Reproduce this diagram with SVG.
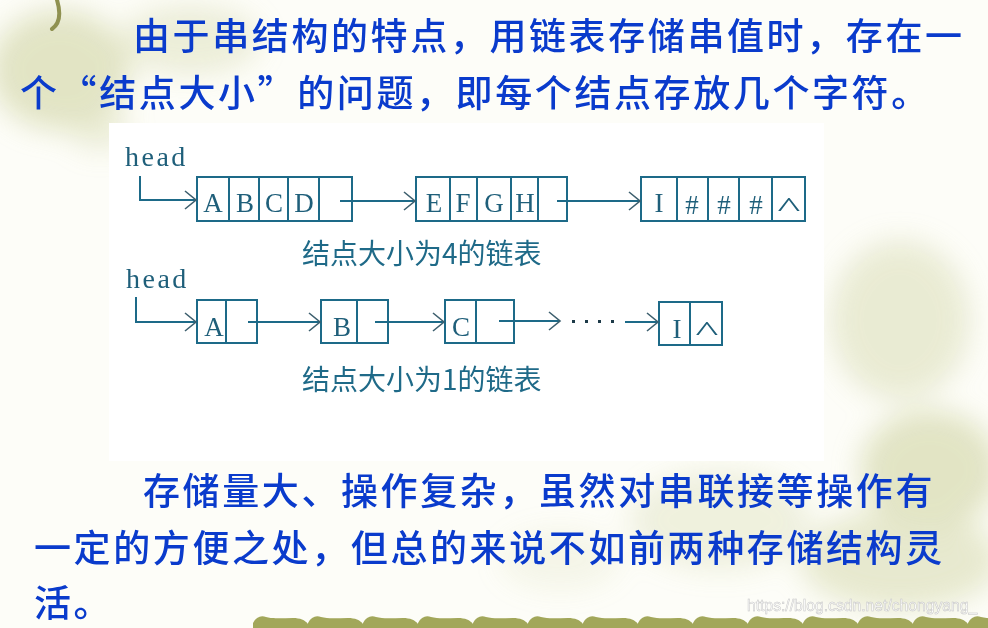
<svg xmlns="http://www.w3.org/2000/svg" xmlns:xlink="http://www.w3.org/1999/xlink" width="988" height="628" viewBox="0 0 988 628">
  <defs>
    <filter id="blur" x="-30%" y="-30%" width="160%" height="160%">
      <feGaussianBlur stdDeviation="14"/>
    </filter>
    <marker id="v" viewBox="-12 -10 14 20" markerWidth="14" markerHeight="20" refX="0" refY="0" orient="auto" markerUnits="userSpaceOnUse">
      <path d="M-11,-9 L0,0 L-11,9" fill="none" stroke="#3d5f6e" stroke-width="1.6"/>
    </marker>
    <path id="wave" d="M0,628 L0,623 C3,617 8,615 13,617 C20,619 30,618 40,618 C47,618 52,620 55,624 L55,628 Z"/>
    <style>
      .para { font-family: "Noto Sans CJK SC", "Noto Sans", sans-serif; font-size: 37px; letter-spacing: 2.6px; fill: #0a3bcc; font-weight: 500; }
      .cell { fill: #ffffff; stroke: #1d6a88; stroke-width: 2; }
      .div { stroke: #1d6a88; stroke-width: 2; }
      .lbl { font-family: "Liberation Serif", serif; font-size: 27px; fill: #1f5f7a; text-anchor: middle; }
      .head { font-family: "Liberation Serif", serif; font-size: 28px; letter-spacing: 2.5px; fill: #1f5f7a; }
      .cap { font-family: "Noto Sans CJK SC", sans-serif; font-size: 28px; fill: #1f6a88; }
      .con { fill: none; stroke: #1d6a88; stroke-width: 2; }
      .wv { fill: #a2a75a; stroke: none; }
    </style>
  </defs>

  <!-- background -->
  <rect width="988" height="628" fill="#fdfdf8"/>
  <g id="background" filter="url(#blur)" fill="#d6d9ae" opacity="0.7">
    <ellipse cx="60" cy="70" rx="70" ry="60"/>
    <ellipse cx="190" cy="40" rx="70" ry="35" opacity="0.6"/>
    <ellipse cx="100" cy="130" rx="30" ry="20" opacity="0.6"/>
    <ellipse cx="900" cy="320" rx="70" ry="80" opacity="0.7"/>
    <ellipse cx="930" cy="470" rx="70" ry="60"/>
    <ellipse cx="900" cy="560" rx="100" ry="50" opacity="0.8"/>
    <ellipse cx="720" cy="520" rx="90" ry="50" opacity="0.5"/>
    <ellipse cx="560" cy="560" rx="60" ry="30" opacity="0.3"/>
  </g>
  <path d="M57,0 C60,10 62,22 52,29" fill="none" stroke="#8f9150" stroke-width="4" stroke-linecap="round"/>

  <!-- white diagram panel -->
  <rect x="109" y="123" width="715" height="338" fill="#ffffff"/>

  <!-- paragraph text -->
  <g id="text-top">
    <text class="para" x="133" y="50">由于串结构的特点，用链表存储串值时，存在一</text>
    <text class="para" x="20" y="107">个“结点大小”的问题，即每个结点存放几个字符。</text>
  </g>
  <g id="text-bottom">
    <text class="para" x="143" y="505">存储量大、操作复杂，虽然对串联接等操作有</text>
    <text class="para" x="34" y="562">一定的方便之处，但总的来说不如前两种存储结构灵</text>
    <text class="para" x="34" y="617">活。</text>
  </g>

  <!-- Row 1: node size 4 -->
  <text id="head1" class="head" x="125" y="166">head</text>
  <g id="n1">
    <rect class="cell" x="197" y="177" width="155" height="44"/>
    <line class="div" x1="229" y1="177" x2="229" y2="221"/>
    <line class="div" x1="259" y1="177" x2="259" y2="221"/>
    <line class="div" x1="288" y1="177" x2="288" y2="221"/>
    <line class="div" x1="319" y1="177" x2="319" y2="221"/>
    <text class="lbl" x="213" y="212">A</text>
    <text class="lbl" x="245" y="212">B</text>
    <text class="lbl" x="274" y="212">C</text>
    <text class="lbl" x="304" y="212">D</text>
  </g>
  <g id="n2">
    <rect class="cell" x="416" y="177" width="151" height="44"/>
    <line class="div" x1="450" y1="177" x2="450" y2="221"/>
    <line class="div" x1="477" y1="177" x2="477" y2="221"/>
    <line class="div" x1="511" y1="177" x2="511" y2="221"/>
    <line class="div" x1="538" y1="177" x2="538" y2="221"/>
    <text class="lbl" x="434" y="212">E</text>
    <text class="lbl" x="463" y="212">F</text>
    <text class="lbl" x="494" y="212">G</text>
    <text class="lbl" x="525" y="212">H</text>
  </g>
  <g id="n3">
    <rect class="cell" x="641" y="177" width="164" height="44"/>
    <line class="div" x1="677" y1="177" x2="677" y2="221"/>
    <line class="div" x1="708" y1="177" x2="708" y2="221"/>
    <line class="div" x1="739" y1="177" x2="739" y2="221"/>
    <line class="div" x1="772" y1="177" x2="772" y2="221"/>
    <text class="lbl" x="659" y="212">I</text>
    <text class="lbl" x="692" y="214">#</text>
    <text class="lbl" x="724" y="214">#</text>
    <text class="lbl" x="756" y="214">#</text>
    <text class="lbl" x="789" y="216" transform="translate(789 0) scale(1.8 1) translate(-789 0)">^</text>
  </g>
  <text id="cap1" class="cap" x="302" y="264">结点大小为4的链表</text>

  <!-- Row 2: node size 1 -->
  <text id="head2" class="head" x="126" y="288">head</text>
  <g id="m1">
    <rect class="cell" x="197" y="300" width="60" height="43"/>
    <line class="div" x1="226" y1="300" x2="226" y2="343"/>
    <text class="lbl" x="214" y="336">A</text>
  </g>
  <g id="m2">
    <rect class="cell" x="321" y="300" width="67" height="43"/>
    <line class="div" x1="357" y1="300" x2="357" y2="343"/>
    <text class="lbl" x="342" y="336">B</text>
  </g>
  <g id="m3">
    <rect class="cell" x="445" y="300" width="69" height="43"/>
    <line class="div" x1="476" y1="300" x2="476" y2="343"/>
    <text class="lbl" x="461" y="336">C</text>
  </g>
  <g id="m4">
    <rect class="cell" x="659" y="302" width="63" height="43"/>
    <line class="div" x1="690" y1="302" x2="690" y2="345"/>
    <text class="lbl" x="677" y="338">I</text>
    <text class="lbl" x="707" y="340" transform="translate(707 0) scale(1.8 1) translate(-707 0)">^</text>
  </g>
  <text id="cap2" class="cap" x="302" y="390">结点大小为1的链表</text>

  <!-- connectors -->
  <g id="connectors">
    <path class="con" d="M140,176 V200 H196" marker-end="url(#v)"/>
    <path class="con" d="M340,201 H415" marker-end="url(#v)"/>
    <path class="con" d="M557,201 H640" marker-end="url(#v)"/>
    <path class="con" d="M136,297 V322 H196" marker-end="url(#v)"/>
    <path class="con" d="M248,322 H320" marker-end="url(#v)"/>
    <path class="con" d="M375,322 H444" marker-end="url(#v)"/>
    <path class="con" d="M499,321 H560" marker-end="url(#v)"/>
    <g fill="#1d3a48">
      <rect x="572" y="320" width="3" height="3"/>
      <rect x="585" y="320" width="3" height="3"/>
      <rect x="598" y="320" width="3" height="3"/>
      <rect x="611" y="320" width="3" height="3"/>
    </g>
    <path class="con" d="M625,322 H658" marker-end="url(#v)"/>
  </g>

  <!-- bottom border -->
  <g id="border" class="wv">
    <use xlink:href="#wave" x="253"/>
    <use xlink:href="#wave" x="308"/>
    <use xlink:href="#wave" x="363"/>
    <use xlink:href="#wave" x="418"/>
    <use xlink:href="#wave" x="473"/>
    <use xlink:href="#wave" x="528"/>
    <use xlink:href="#wave" x="583"/>
    <use xlink:href="#wave" x="638"/>
    <use xlink:href="#wave" x="693"/>
    <use xlink:href="#wave" x="748"/>
    <use xlink:href="#wave" x="803"/>
    <use xlink:href="#wave" x="858"/>
    <use xlink:href="#wave" x="913"/>
    <use xlink:href="#wave" x="968"/>
  </g>

  <text id="watermark" x="747" y="611" font-family="Liberation Sans, Arial, sans-serif" font-size="15.7" fill="#ffffff" stroke="#c4c4c4" stroke-width="0.5">https://blog.csdn.net/chongyang_</text>
</svg>
